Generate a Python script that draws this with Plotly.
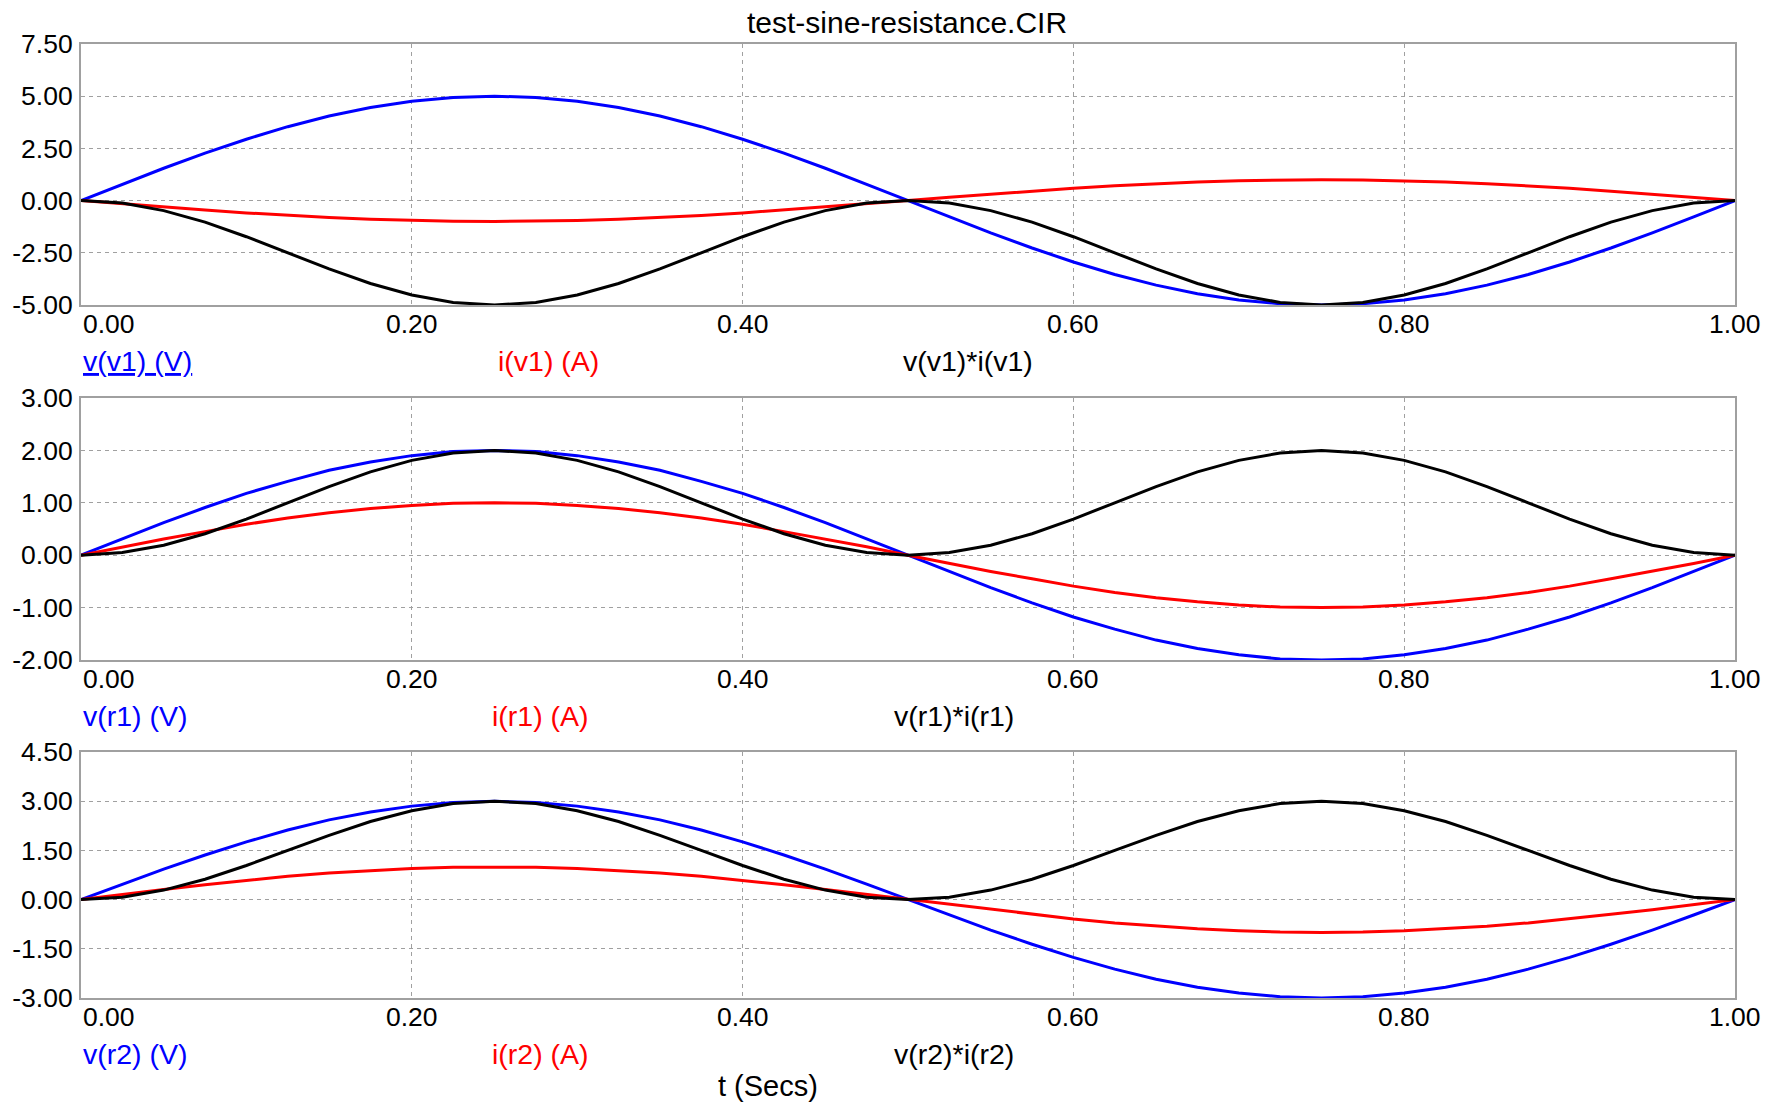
import plotly.graph_objects as go

# ---------------- data ----------------
t = [0.000, 0.025, 0.050, 0.075, 0.100, 0.125, 0.150, 0.175, 0.200, 0.225,
     0.250, 0.275, 0.300, 0.325, 0.350, 0.375, 0.400, 0.425, 0.450, 0.475,
     0.500, 0.525, 0.550, 0.575, 0.600, 0.625, 0.650, 0.675, 0.700, 0.725,
     0.750, 0.775, 0.800, 0.825, 0.850, 0.875, 0.900, 0.925, 0.950, 0.975, 1.000]

v_v1 = [0.00, 0.78, 1.55, 2.27, 2.94, 3.54, 4.05, 4.46, 4.76, 4.94,
        5.00, 4.94, 4.76, 4.46, 4.05, 3.54, 2.94, 2.27, 1.55, 0.78,
        0.00, -0.78, -1.55, -2.27, -2.94, -3.54, -4.05, -4.46, -4.76, -4.94,
        -5.00, -4.94, -4.76, -4.46, -4.05, -3.54, -2.94, -2.27, -1.55, -0.78, 0.00]
i_v1 = [0.00, -0.16, -0.31, -0.45, -0.59, -0.71, -0.81, -0.89, -0.95, -0.99,
        -1.00, -0.99, -0.95, -0.89, -0.81, -0.71, -0.59, -0.45, -0.31, -0.16,
        0.00, 0.16, 0.31, 0.45, 0.59, 0.71, 0.81, 0.89, 0.95, 0.99,
        1.00, 0.99, 0.95, 0.89, 0.81, 0.71, 0.59, 0.45, 0.31, 0.16, 0.00]
p_v1 = [0.00, -0.12, -0.48, -1.03, -1.73, -2.50, -3.27, -3.97, -4.52, -4.88,
        -5.00, -4.88, -4.52, -3.97, -3.27, -2.50, -1.73, -1.03, -0.48, -0.12,
        0.00, -0.12, -0.48, -1.03, -1.73, -2.50, -3.27, -3.97, -4.52, -4.88,
        -5.00, -4.88, -4.52, -3.97, -3.27, -2.50, -1.73, -1.03, -0.48, -0.12, 0.00]

v_r1 = [0.00, 0.31, 0.62, 0.91, 1.18, 1.41, 1.62, 1.78, 1.90, 1.98,
        2.00, 1.98, 1.90, 1.78, 1.62, 1.41, 1.18, 0.91, 0.62, 0.31,
        0.00, -0.31, -0.62, -0.91, -1.18, -1.41, -1.62, -1.78, -1.90, -1.98,
        -2.00, -1.98, -1.90, -1.78, -1.62, -1.41, -1.18, -0.91, -0.62, -0.31, 0.00]
i_r1 = [0.00, 0.16, 0.31, 0.45, 0.59, 0.71, 0.81, 0.89, 0.95, 0.99,
        1.00, 0.99, 0.95, 0.89, 0.81, 0.71, 0.59, 0.45, 0.31, 0.16,
        0.00, -0.16, -0.31, -0.45, -0.59, -0.71, -0.81, -0.89, -0.95, -0.99,
        -1.00, -0.99, -0.95, -0.89, -0.81, -0.71, -0.59, -0.45, -0.31, -0.16, 0.00]
p_r1 = [0.00, 0.05, 0.19, 0.41, 0.69, 1.00, 1.31, 1.59, 1.81, 1.95,
        2.00, 1.95, 1.81, 1.59, 1.31, 1.00, 0.69, 0.41, 0.19, 0.05,
        0.00, 0.05, 0.19, 0.41, 0.69, 1.00, 1.31, 1.59, 1.81, 1.95,
        2.00, 1.95, 1.81, 1.59, 1.31, 1.00, 0.69, 0.41, 0.19, 0.05, 0.00]

v_r2 = [0.00, 0.47, 0.93, 1.36, 1.76, 2.12, 2.43, 2.67, 2.85, 2.96,
        3.00, 2.96, 2.85, 2.67, 2.43, 2.12, 1.76, 1.36, 0.93, 0.47,
        0.00, -0.47, -0.93, -1.36, -1.76, -2.12, -2.43, -2.67, -2.85, -2.96,
        -3.00, -2.96, -2.85, -2.67, -2.43, -2.12, -1.76, -1.36, -0.93, -0.47, 0.00]
i_r2 = [0.00, 0.16, 0.31, 0.45, 0.59, 0.71, 0.81, 0.89, 0.95, 0.99,
        1.00, 0.99, 0.95, 0.89, 0.81, 0.71, 0.59, 0.45, 0.31, 0.16,
        0.00, -0.16, -0.31, -0.45, -0.59, -0.71, -0.81, -0.89, -0.95, -0.99,
        -1.00, -0.99, -0.95, -0.89, -0.81, -0.71, -0.59, -0.45, -0.31, -0.16, 0.00]
p_r2 = [0.00, 0.07, 0.29, 0.62, 1.04, 1.50, 1.96, 2.38, 2.71, 2.93,
        3.00, 2.93, 2.71, 2.38, 1.96, 1.50, 1.04, 0.62, 0.29, 0.07,
        0.00, 0.07, 0.29, 0.62, 1.04, 1.50, 1.96, 2.38, 2.71, 2.93,
        3.00, 2.93, 2.71, 2.38, 1.96, 1.50, 1.04, 0.62, 0.29, 0.07, 0.00]

x_ticks = [0.0, 0.2, 0.4, 0.6, 0.8, 1.0]
x_tick_labels = ["0.00", "0.20", "0.40", "0.60", "0.80", "1.00"]

y1_ticks = [-5.0, -2.5, 0.0, 2.5, 5.0, 7.5]
y1_tick_labels = ["-5.00", "-2.50", "0.00", "2.50", "5.00", "7.50"]
y2_ticks = [-2.0, -1.0, 0.0, 1.0, 2.0, 3.0]
y2_tick_labels = ["-2.00", "-1.00", "0.00", "1.00", "2.00", "3.00"]
y3_ticks = [-3.0, -1.5, 0.0, 1.5, 3.0, 4.5]
y3_tick_labels = ["-3.00", "-1.50", "0.00", "1.50", "3.00", "4.50"]

panel_series = [
    (v_v1, i_v1, p_v1),
    (v_r1, i_r1, p_r1),
    (v_r2, i_r2, p_r2),
]
panel_names = [
    ("<u>v(v1) (V)</u>", "i(v1) (A)", "v(v1)*i(v1)"),
    ("v(r1) (V)", "i(r1) (A)", "v(r1)*i(r1)"),
    ("v(r2) (V)", "i(r2) (A)", "v(r2)*i(r2)"),
]
y_ticks = [y1_ticks, y2_ticks, y3_ticks]
y_tick_labels = [y1_tick_labels, y2_tick_labels, y3_tick_labels]

title_text = "test-sine-resistance.CIR"
x_title = "t (Secs)"

# ---------------- layout / styling ----------------
W, H = 1766, 1107
FONT = "Liberation Sans, Arial, sans-serif"
FS_TICK = 26.5
FS_LEG = 28.5
FS_TITLE = 30
FS_XT = 29
colors = ["#0000ff", "#ff0000", "#000000"]

def px_x(p):
    return p / W

def px_y(p):
    return 1 - p / H

x_dom = [px_x(81), px_x(1735)]
y_doms = [[px_y(305), px_y(44)], [px_y(660), px_y(398)], [px_y(998), px_y(752)]]
tick_label_y = [px_y(324), px_y(679), px_y(1017)]
legend_y = [px_y(361), px_y(716), px_y(1054)]
legend_x = [[px_x(81), px_x(496), px_x(901)],
            [px_x(81), px_x(490), px_x(892)],
            [px_x(81), px_x(490), px_x(892)]]

fig = go.Figure()
annotations = []
grid_col = "#a0a0a0"

for k in range(3):
    xa = "x" if k == 0 else f"x{k+1}"
    ya = "y" if k == 0 else f"y{k+1}"
    for s, (vals, c) in enumerate(zip(panel_series[k], colors)):
        fig.add_trace(go.Scatter(
            x=t, y=vals, mode="lines", xaxis=xa, yaxis=ya,
            line=dict(color=c, width=3), showlegend=False,
            hoverinfo="skip"))
    axkey = "xaxis" if k == 0 else f"xaxis{k+1}"
    aykey = "yaxis" if k == 0 else f"yaxis{k+1}"
    fig.layout[axkey] = dict(
        domain=x_dom, range=[0, 1], anchor=ya, automargin=False,
        tickvals=x_ticks, showticklabels=False, ticks="",
        showgrid=True, gridcolor=grid_col, griddash="4px,4px", gridwidth=1,
        zeroline=False, showline=True, mirror=True,
        linecolor=grid_col, linewidth=2, fixedrange=True)
    fig.layout[aykey] = dict(
        domain=y_doms[k], range=[y_ticks[k][0], y_ticks[k][-1]], anchor=xa,
        automargin=False,
        tickvals=y_ticks[k], ticktext=y_tick_labels[k], ticks="",
        ticklabelstandoff=1,
        tickfont=dict(family=FONT, size=FS_TICK, color="#000000"),
        showgrid=True, gridcolor=grid_col, griddash="4px,4px", gridwidth=1,
        zeroline=False, showline=True, mirror=True,
        linecolor=grid_col, linewidth=2, fixedrange=True)
    # x tick labels
    for j, (tv, tl) in enumerate(zip(x_ticks, x_tick_labels)):
        annotations.append(dict(
            x=tv, xref=xa, y=tick_label_y[k], yref="paper",
            text=tl, showarrow=False,
            xanchor="left" if j == 0 else "center", yanchor="middle",
            font=dict(family=FONT, size=FS_TICK, color="#000000")))
    # trace name labels
    for j in range(3):
        annotations.append(dict(
            x=legend_x[k][j], xref="paper", y=legend_y[k], yref="paper",
            text=panel_names[k][j], showarrow=False,
            xanchor="left", yanchor="middle",
            font=dict(family=FONT, size=FS_LEG, color=colors[j])))

annotations.append(dict(
    x=px_x(906.5), xref="paper", y=px_y(22.5), yref="paper",
    text=title_text, showarrow=False, xanchor="center", yanchor="middle",
    font=dict(family=FONT, size=FS_TITLE, color="#000000")))
annotations.append(dict(
    x=px_x(767.5), xref="paper", y=px_y(1086), yref="paper",
    text=x_title, showarrow=False, xanchor="center", yanchor="middle",
    font=dict(family=FONT, size=FS_XT, color="#000000")))

fig.update_layout(
    width=W, height=H, margin=dict(l=0, r=0, t=0, b=0, pad=0),
    paper_bgcolor="#ffffff", plot_bgcolor="#ffffff",
    annotations=annotations, showlegend=False,
    font=dict(family=FONT, size=FS_TICK, color="#000000"))

fig.write_html("out.html", config={"displayModeBar": False},
               post_script="document.body.style.margin='0';document.body.style.overflow='hidden';")
